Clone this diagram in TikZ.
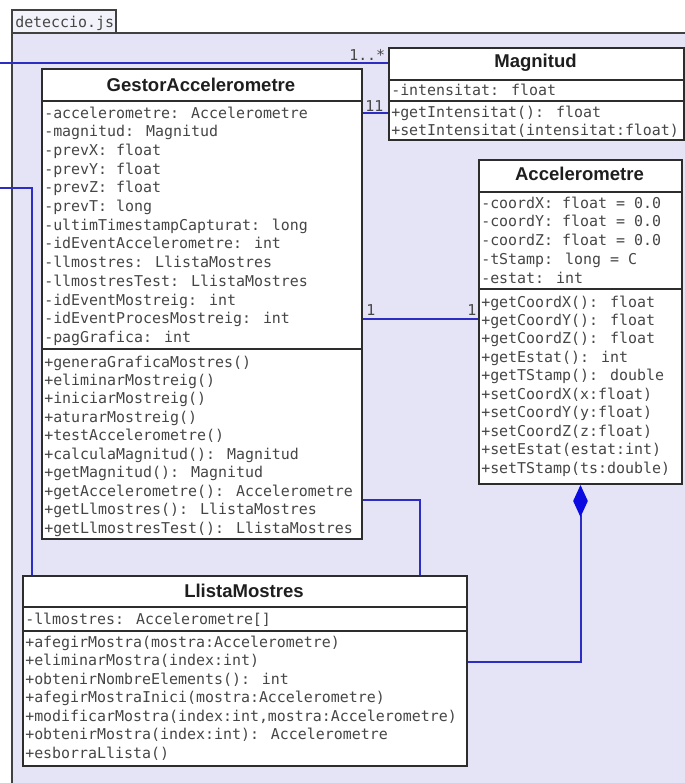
\documentclass[tikz,border=0pt]{standalone}
\usepackage{fontspec}
\setmainfont{Liberation Sans}
\newfontfamily\membfont{DejaVu Sans Mono}
\usetikzlibrary{arrows.meta}

\definecolor{pkgfill}{RGB}{228,228,246}
\definecolor{tabfill}{RGB}{242,242,250}
\definecolor{pkgline}{RGB}{65,65,65}
\definecolor{boxline}{RGB}{45,45,45}
\definecolor{wire}{RGB}{45,45,195}
\definecolor{diamondblue}{RGB}{10,10,225}
\definecolor{membtext}{RGB}{70,70,70}
\definecolor{titletext}{RGB}{30,30,30}

% one text node per member line: prefix, x, first baseline, line pitch, lines
\newcommand\umlmembers[5]{%
  \foreach \m [count=\i] in {#5}
    \node[member] (#1-\i) at (#2, {#3+#4*(\i-1)}) {\m};}

\begin{document}
\begin{tikzpicture}[x=0.75pt,y=-0.75pt,
  classbox/.style={draw=boxline, line width=1.5pt, fill=white, inner sep=0pt, anchor=north west},
  classtitle/.style={font=\fontsize{13.9}{16}\selectfont\bfseries, text=titletext, inner sep=0pt, anchor=base},
  member/.style={font=\membfont\fontsize{11.2}{14}\selectfont, text=membtext, inner sep=0pt, anchor=base west},
  multlabel/.style={font=\membfont\fontsize{11.2}{14}\selectfont, text=membtext, inner sep=0pt, anchor=base west},
  divider/.style={draw=boxline, line width=1.5pt},
  link/.style={draw=wire, line width=1.5pt}]

\useasboundingbox (0,0) rectangle (685,783);
\clip (0,0) rectangle (685,783);
\fill[white] (0,0) rectangle (685,783);

% package deteccio.js
\fill[pkgfill] (12,33) rectangle (700,800);
\draw[pkgline, line width=1.8pt] (700,33) -- (12,33) -- (12,800);
\draw[pkgline, line width=1.8pt, fill=tabfill] (12,33) rectangle (116,10);
\node[member] (pkgname) at (15,27) {deteccio.js};

% class Magnitud
\node[classbox, minimum width=295*0.75pt, minimum height=92*0.75pt] (magnitud) at (388,47) {};
\draw[divider] (magnitud.west |- 0,80) -- (magnitud.east |- 0,80);
\draw[divider] (magnitud.west |- 0,101) -- (magnitud.east |- 0,101);
\node[classtitle] (magnitud-title) at (535.5,67.5) {Magnitud};
\umlmembers{magattr}{391}{95}{18}{{-intensitat: float}}
\umlmembers{magop}{391}{117}{18}{{+getIntensitat(): float},{+setIntensitat(intensitat:float)}}

% class GestorAccelerometre
\node[classbox, minimum width=320*0.75pt, minimum height=470*0.75pt] (gestor) at (41,68) {};
\draw[divider] (gestor.west |- 0,101) -- (gestor.east |- 0,101);
\draw[divider] (gestor.west |- 0,349) -- (gestor.east |- 0,349);
\node[classtitle] (gestor-title) at (201,91.5) {GestorAccelerometre};
\umlmembers{gattr}{44}{118}{18.7}{%
  {-accelerometre: Accelerometre},
  {-magnitud: Magnitud},
  {-prevX: float},
  {-prevY: float},
  {-prevZ: float},
  {-prevT: long},
  {-ultimTimestampCapturat: long},
  {-idEventAccelerometre: int},
  {-llmostres: LlistaMostres},
  {-llmostresTest: LlistaMostres},
  {-idEventMostreig: int},
  {-idEventProcesMostreig: int},
  {-pagGrafica: int}}
\umlmembers{gop}{44}{367}{18.45}{%
  {+generaGraficaMostres()},
  {+eliminarMostreig()},
  {+iniciarMostreig()},
  {+aturarMostreig()},
  {+testAccelerometre()},
  {+calculaMagnitud(): Magnitud},
  {+getMagnitud(): Magnitud},
  {+getAccelerometre(): Accelerometre},
  {+getLlmostres(): LlistaMostres},
  {+getLlmostresTest(): LlistaMostres}}

% class Accelerometre
\node[classbox, minimum width=203*0.75pt, minimum height=324*0.75pt] (accel) at (478,159) {};
\draw[divider] (accel.west |- 0,192) -- (accel.east |- 0,192);
\draw[divider] (accel.west |- 0,289) -- (accel.east |- 0,289);
\node[classtitle] (accel-title) at (579.5,180) {Accelerometre};
\umlmembers{aattr}{481}{208}{18.75}{%
  {-coordX: float = 0.0},
  {-coordY: float = 0.0},
  {-coordZ: float = 0.0},
  {-tStamp: long = C},
  {-estat: int}}
\umlmembers{aop}{481}{307}{18.45}{%
  {+getCoordX(): float},
  {+getCoordY(): float},
  {+getCoordZ(): float},
  {+getEstat(): int},
  {+getTStamp(): double},
  {+setCoordX(x:float)},
  {+setCoordY(y:float)},
  {+setCoordZ(z:float)},
  {+setEstat(estat:int)},
  {+setTStamp(ts:double)}}

% class LlistaMostres
\node[classbox, minimum width=444*0.75pt, minimum height=190*0.75pt] (llista) at (22,575) {};
\draw[divider] (llista.west |- 0,607) -- (llista.east |- 0,607);
\draw[divider] (llista.west |- 0,631) -- (llista.east |- 0,631);
\node[classtitle] (llista-title) at (244,597) {LlistaMostres};
\umlmembers{lattr}{25}{624}{18.5}{{-llmostres: Accelerometre[]}}
\umlmembers{lop}{25}{647}{18.5}{%
  {+afegirMostra(mostra:Accelerometre)},
  {+eliminarMostra(index:int)},
  {+obtenirNombreElements(): int},
  {+afegirMostraInici(mostra:Accelerometre)},
  {+modificarMostra(index:int,mostra:Accelerometre)},
  {+obtenirMostra(index:int): Accelerometre},
  {+esborraLlista()}}

% associations
\coordinate (inA) at (0,63);
\coordinate (inB) at (0,188);
\draw[link] (inA) -- (inA -| magnitud.west);
\node[multlabel] (multA) at (349,60) {1..*};

\draw[link] (gestor.east |- 0,113) -- (magnitud.west |- 0,113);
\node[multlabel] (multB) at (365,111) {11};

\draw[link] (gestor.east |- 0,319) -- (accel.west |- 0,319);
\node[multlabel] (multC) at (366,315) {1};
\node[multlabel] (multD) at (467,315) {1};

\draw[link] (inB) -| (llista.north west -| 32,0);
\draw[link] (gestor.east |- 0,500) -| (llista.north west -| 420,0);

% composition: Accelerometre owns LlistaMostres entries
\draw[link, {Diamond[length=24pt, width=11pt, color=diamondblue]}-]
  (accel.south) |- (llista.east |- 0,662);

\end{tikzpicture}
\end{document}
